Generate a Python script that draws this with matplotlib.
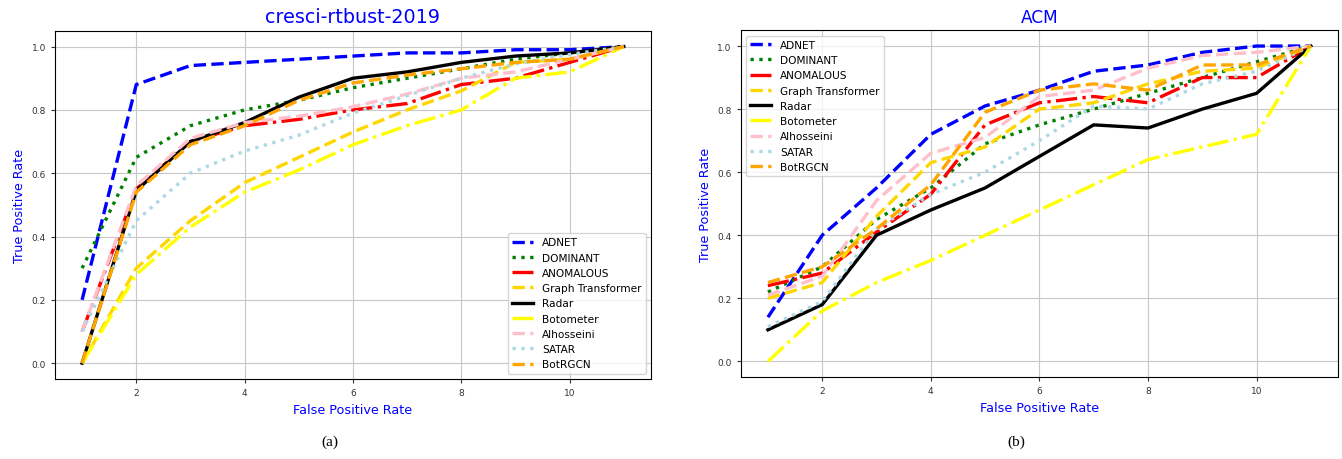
import matplotlib
matplotlib.use("Agg")
import matplotlib.pyplot as plt
import numpy as np

# False positive rate axis (same for both panels)
fpr = np.arange(1, 12)

methods = ["ADNET", "DOMINANT", "ANOMALOUS", "Graph Transformer", "Radar",
           "Botometer", "Alhosseini", "SATAR", "BotRGCN"]
colors = ["blue", "green", "red", "gold", "black",
          "yellow", "pink", "lightblue", "orange"]
styles = ["--", ":", "-.", "--", "-", "-.", "--", ":", "--"]

# (a) cresci-rtbust-2019
adnet_a = [0.20, 0.88, 0.94, 0.95, 0.96, 0.97, 0.98, 0.98, 0.99, 0.99, 1.0]
dominant_a = [0.30, 0.65, 0.75, 0.80, 0.83, 0.87, 0.90, 0.93, 0.96, 0.98, 1.0]
anomalous_a = [0.10, 0.55, 0.70, 0.75, 0.77, 0.80, 0.82, 0.88, 0.90, 0.95, 1.0]
graphtrans_a = [0.0, 0.30, 0.45, 0.57, 0.65, 0.73, 0.80, 0.86, 0.95, 0.96, 1.0]
radar_a = [0.0, 0.545, 0.70, 0.76, 0.84, 0.90, 0.92, 0.95, 0.97, 0.98, 1.0]
botometer_a = [0.0, 0.28, 0.43, 0.54, 0.61, 0.69, 0.75, 0.80, 0.90, 0.92, 1.0]
alhosseini_a = [0.10, 0.56, 0.71, 0.76, 0.78, 0.81, 0.85, 0.90, 0.92, 0.96, 1.0]
satar_a = [0.10, 0.45, 0.60, 0.67, 0.72, 0.79, 0.845, 0.90, 0.945, 0.975, 1.0]
botrgcn_a = [0.0, 0.54, 0.69, 0.75, 0.83, 0.885, 0.91, 0.93, 0.95, 0.96, 1.0]

# (b) ACM
adnet_b = [0.14, 0.40, 0.55, 0.72, 0.81, 0.86, 0.92, 0.94, 0.98, 1.0, 1.0]
dominant_b = [0.22, 0.30, 0.45, 0.55, 0.69, 0.75, 0.80, 0.85, 0.90, 0.95, 1.0]
anomalous_b = [0.24, 0.28, 0.41, 0.53, 0.75, 0.82, 0.84, 0.82, 0.90, 0.90, 1.0]
graphtrans_b = [0.20, 0.25, 0.46, 0.63, 0.68, 0.80, 0.82, 0.88, 0.92, 0.93, 1.0]
radar_b = [0.10, 0.18, 0.40, 0.48, 0.55, 0.65, 0.75, 0.74, 0.80, 0.85, 1.0]
botometer_b = [0.0, 0.16, 0.25, 0.32, 0.40, 0.48, 0.56, 0.64, 0.68, 0.72, 1.0]
alhosseini_b = [0.21, 0.27, 0.51, 0.66, 0.71, 0.84, 0.86, 0.93, 0.97, 0.98, 1.0]
satar_b = [0.11, 0.19, 0.42, 0.53, 0.60, 0.70, 0.81, 0.80, 0.88, 0.92, 1.0]
botrgcn_b = [0.25, 0.30, 0.42, 0.56, 0.79, 0.86, 0.88, 0.86, 0.94, 0.94, 1.0]

data_a = [adnet_a, dominant_a, anomalous_a, graphtrans_a, radar_a,
          botometer_a, alhosseini_a, satar_a, botrgcn_a]
data_b = [adnet_b, dominant_b, anomalous_b, graphtrans_b, radar_b,
          botometer_b, alhosseini_b, satar_b, botrgcn_b]

fig = plt.figure(figsize=(13.42, 4.6), dpi=100)
ax1 = fig.add_axes([0.041, 0.174, 0.444, 0.757])
ax2 = fig.add_axes([0.552, 0.178, 0.445, 0.754])

def draw(ax, data, title, tsize, loc):
    for name, ys, c, ls in zip(methods, data, colors, styles):
        ax.plot(fpr, ys, color=c, linestyle=ls, linewidth=2.4, label=name)
    ax.grid(True, color="#c8c8c8", linewidth=0.8)
    ax.set_xticks([2, 4, 6, 8, 10])
    ax.set_yticks([0.0, 0.2, 0.4, 0.6, 0.8, 1.0])
    ax.tick_params(labelsize=6.5, colors="#333333", length=3)
    ax.set_title(title, color="blue", fontsize=tsize)
    ax.set_xlabel("False Positive Rate", color="blue", fontsize=9.2)
    ax.set_ylabel("True Positive Rate", color="blue", fontsize=9.2)
    ax.legend(loc=loc, fontsize=7.6)

draw(ax1, data_a, "cresci-rtbust-2019", 13.8, "lower right")
draw(ax2, data_b, "ACM", 12.2, "upper left")

fig.text(0.246, 0.03, "(a)", family="Liberation Serif", fontsize=11, ha="center")
fig.text(0.757, 0.03, "(b)", family="Liberation Serif", fontsize=11, ha="center")

fig.savefig("out.png", dpi=100)
